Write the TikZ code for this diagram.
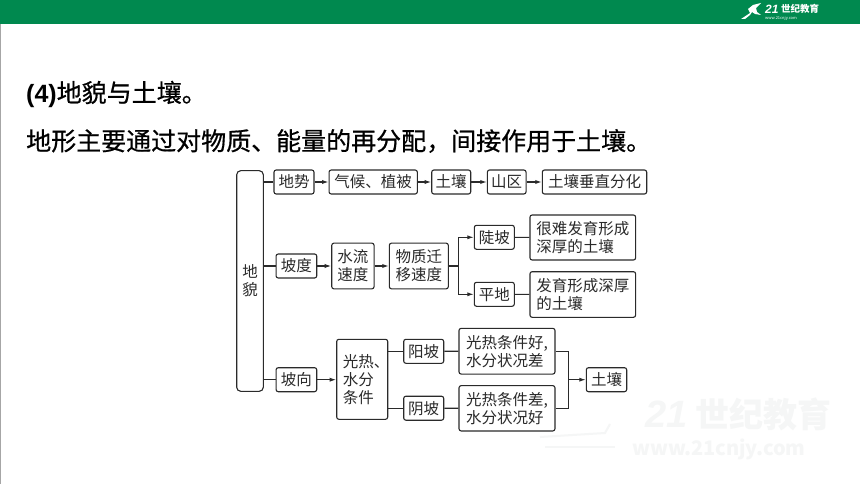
\documentclass[tikz,border=0pt]{standalone}
\usepackage{fontspec}
\usetikzlibrary{arrows.meta}
\setmainfont{Noto Sans CJK SC}
\newfontfamily\latinbold{Liberation Sans}
\newfontfamily\headfont[FakeBold=0.6]{Noto Sans CJK SC}
\definecolor{headgreen}{HTML}{00894F}
\definecolor{inkgray}{HTML}{2A2A2A}
\definecolor{markgray}{HTML}{F5F6F6}
\tikzset{
	geobox/.style={draw=inkgray,line width=1.1pt,rounded corners=2.2pt,inner sep=0pt,text=inkgray,font=\fontsize{15.5}{18}\selectfont},
	geoline/.style={draw=inkgray,line width=1.1pt},
	geoarrow/.style={geoline,-{Latex[length=6.5pt,width=4.2pt]}},
	headline/.style={anchor=west,inner sep=0pt,text=black,font=\fontsize{25}{30}\headfont\selectfont}
}
\begin{document}
\begin{tikzpicture}[x=1pt,y=-1pt]
	\useasboundingbox (0,0) rectangle (860,484);
	\fill[white] (0,0) rectangle (860,484);
	\fill[black!35] (0,24) rectangle (1,484);
	\fill[headgreen] (0,0) rectangle (860,24);		%top band
	\fill[white] (741,19)--(750,13)--(748,9)--(753,5)--(761,3)--(756,8)--(757,12)--(761,15)--(755,14)--(752,12)--(750,15)--(745,19)--cycle;	%runner
	\node[anchor=west,inner sep=0pt,text=white] (logonum) at (765,9) {\fontsize{12}{12}\selectfont\latinbold\bfseries\itshape 21};
	\node[anchor=west,inner sep=0pt,text=white] (logoname) at (781,9) {\fontsize{9.5}{10}\selectfont\bfseries 世纪教育};
	\node[anchor=west,inner sep=0pt,text=white] (logourl) at (765,18) {\fontsize{4}{4}\selectfont www.21cnjy.com};
	
	% watermark
	\node[anchor=west,inner sep=0pt,text=markgray] (marknum) at (645,414) {\fontsize{38}{38}\selectfont\latinbold\bfseries\itshape 21};
	\node[anchor=west,inner sep=0pt,text=markgray] (markname) at (695,414) {\fontsize{34}{34}\selectfont\bfseries 世纪教育};
	\node[anchor=west,inner sep=0pt,text=markgray] (markurl) at (632,449) {\fontsize{20}{20}\selectfont\bfseries www.21cnjy.com};
	\draw[markgray,line width=2pt] (540,437)--(605,433)--(610,424);
	\draw[markgray,line width=2pt] (545,447)--(615,447);
	
	\node[headline] (title) at (26,94) {{\latinbold\bfseries (4)}地貌与土壤。};
	\node[headline] (lead) at (26,141) {地形主要通过对物质、能量的再分配，间接作用于土壤。};
	
	\node[geobox,rounded corners=4pt,minimum width=26.6pt,minimum height=220.6pt,align=center] (dimao) at (250,281) {地\\貌};
	%top row
	\node[geobox,minimum width=40pt,minimum height=24pt] (dishi) at (294,182) {地势};
	\node[geobox,minimum width=88.3pt,minimum height=24pt] (qihou) at (373.2,182) {气候、植被};
	\node[geobox,minimum width=39pt,minimum height=24pt] (turang) at (451.2,182) {土壤};
	\node[geobox,minimum width=38.7pt,minimum height=24pt] (shanqu) at (506.7,182) {山区};
	\node[geobox,minimum width=104.4pt,minimum height=24pt] (chuizhi) at (594.5,182) {土壤垂直分化};
	%middle row
	\node[geobox,minimum width=40.7pt,minimum height=24pt] (podu) at (296.4,266) {坡度};
	\node[geobox,minimum width=42.3pt,minimum height=45.7pt,align=center] (shuiliu) at (352.9,266) {水流\\速度};
	\node[geobox,minimum width=59pt,minimum height=45.7pt,align=center] (wuzhi) at (418.8,266) {物质迁\\移速度};
	\node[geobox,minimum width=40pt,minimum height=24pt] (dupo) at (494.3,237.3) {陡坡};
	\node[geobox,minimum width=105.7pt,minimum height=45pt,align=left] (hennan) at (582.8,237.5) {很难发育形成\\深厚的土壤};
	\node[geobox,minimum width=40pt,minimum height=24pt] (pingdi) at (494.3,294.3) {平地};
	\node[geobox,minimum width=105.7pt,minimum height=45.6pt,align=left] (fayu) at (582.8,294.5) {发育形成深厚\\的土壤};
	%bottom row
	\node[geobox,minimum width=40.7pt,minimum height=24pt] (poxiang) at (296.4,379.7) {坡向};
	\node[geobox,minimum width=51pt,minimum height=80pt,align=left] (guangre) at (362.2,379.3) {光热、\kern-8pt\\水分\\条件};
	\node[geobox,minimum width=40pt,minimum height=24pt] (yangpo) at (423.7,351.3) {阳坡};
	\node[geobox,minimum width=96pt,minimum height=45.7pt,align=left] (yanghao) at (507,351.2) {光热条件好,\\水分状况差};
	\node[geobox,minimum width=40pt,minimum height=24pt] (yinpo) at (423.7,408.2) {阴坡};
	\node[geobox,minimum width=96pt,minimum height=45.3pt,align=left] (yinhao) at (507,408.3) {光热条件差,\\水分状况好};
	\node[geobox,minimum width=40.4pt,minimum height=24pt] (turangb) at (606.5,379.7) {土壤};
	\coordinate (branchup) at (458.3,266);
	\coordinate (joinb) at (568.3,379.7);
	
	\draw[geoline] (dimao.east |- dishi)--(dishi);
	\draw[geoline] (dimao.east |- podu)--(podu);
	\draw[geoline] (dimao.east |- poxiang)--(poxiang);
	\draw[geoarrow] (dishi)--(qihou);
	\draw[geoarrow] (qihou)--(turang);
	\draw[geoarrow] (turang)--(shanqu);
	\draw[geoarrow] (shanqu)--(chuizhi);
	\draw[geoarrow] (podu)--(shuiliu);
	\draw[geoarrow] (shuiliu)--(wuzhi);
	\draw[geoline] (wuzhi)--(branchup);
	\draw[geoarrow] (branchup)|-(dupo);
	\draw[geoarrow] (branchup)|-(pingdi);
	\draw[geoline] (dupo)--(hennan);
	\draw[geoline] (pingdi)--(fayu);
	\draw[geoarrow] (poxiang)--(poxiang -| guangre.west);
	\draw[geoline] (guangre.east |- yangpo)--(yangpo);
	\draw[geoline] (guangre.east |- yinpo)--(yinpo);
	\draw[geoline] (yangpo)--(yanghao);
	\draw[geoline] (yinpo)--(yinhao);
	\draw[geoline] (yanghao)-|(joinb);
	\draw[geoline] (yinhao)-|(joinb);
	\draw[geoarrow] (joinb)--(turangb);
\end{tikzpicture}
\end{document}
